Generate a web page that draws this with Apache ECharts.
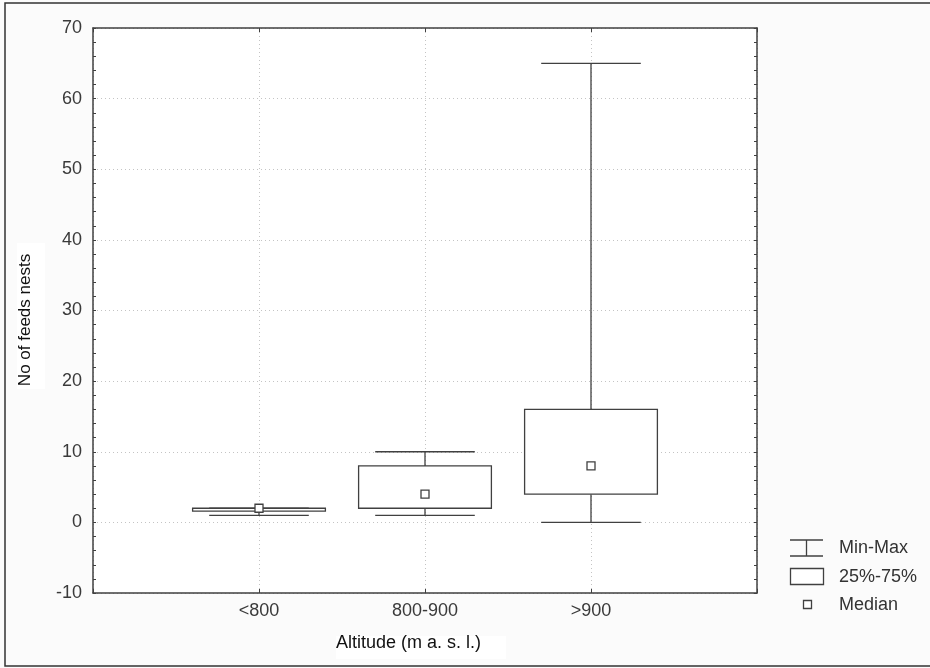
<!DOCTYPE html>
<html>
<head>
<meta charset="utf-8">
<script src="https://cdn.jsdelivr.net/npm/echarts@6/dist/echarts.min.js"></script>
<style>
  html, body { margin: 0; padding: 0; background: #fbfbfb; }
  #chart { width: 930px; height: 668px; }
</style>
</head>
<body>
<div id="chart"></div>
<script>
// altitude classes and the box plot statistics
const categories = ['<800', '800-900', '>900']
const minVals = [1, 1, 0]
const q1Vals = [1.6, 2, 4]
const medianVals = [2, 4, 8]
const q3Vals = [2, 8, 16]
const maxVals = [2, 10, 65]
const yTicks = [-10, 0, 10, 20, 30, 40, 50, 60, 70]

const FONT = 'Liberation Sans, Arial, sans-serif'
const INK = '#404040'
const GRID_LINE = '#c4c4c4'

const boxData = categories.map((c, i) => [i + 1, minVals[i], q1Vals[i], medianVals[i], q3Vals[i], maxVals[i]])
const medianData = categories.map((c, i) => [i + 1, medianVals[i]])

const chart = echarts.init(document.getElementById('chart'))

const renderWhisker = (params, api) => {
  const x = api.value(0)
  const pMin = api.coord([x, api.value(1)])
  const pQ1 = api.coord([x, api.value(2)])
  const pQ3 = api.coord([x, api.value(4)])
  const pMax = api.coord([x, api.value(5)])
  const half = api.size([0.3, 0])[0]
  const style = { stroke: INK, lineWidth: 1.3, fill: null }
  return {
    type: 'group',
    children: [
      { type: 'line', shape: { x1: pMin[0], y1: pMin[1], x2: pQ1[0], y2: pQ1[1] }, style },
      { type: 'line', shape: { x1: pQ3[0], y1: pQ3[1], x2: pMax[0], y2: pMax[1] }, style },
      { type: 'line', shape: { x1: pMin[0] - half, y1: pMin[1], x2: pMin[0] + half, y2: pMin[1] }, style },
      { type: 'line', shape: { x1: pMax[0] - half, y1: pMax[1], x2: pMax[0] + half, y2: pMax[1] }, style }
    ]
  }
}

const renderBox = (params, api) => {
  const x = api.value(0)
  const pQ1 = api.coord([x, api.value(2)])
  const pQ3 = api.coord([x, api.value(4)])
  const half = api.size([0.4, 0])[0]
  return {
    type: 'rect',
    shape: { x: pQ3[0] - half, y: pQ3[1], width: half * 2, height: pQ1[1] - pQ3[1] },
    style: { fill: '#fff', stroke: INK, lineWidth: 1.3 }
  }
}

const axisLine = { show: true, onZero: false, lineStyle: { color: INK, width: 1.5 } }

const option = {
  backgroundColor: '#fbfbfb',
  animation: false,
  textStyle: { fontFamily: FONT },
  grid: {
    left: 93, top: 28, right: 173, bottom: 75,
    show: true, backgroundColor: '#fff', borderWidth: 0
  },
  xAxis: [
    {
      type: 'value', min: 0, max: 4, interval: 1, position: 'bottom',
      axisLine,
      axisTick: { show: true, inside: true, length: 4, lineStyle: { color: INK } },
      axisLabel: {
        margin: 9, fontSize: 18, color: '#3a3a3a', fontFamily: FONT,
        formatter: v => categories[v - 1] || ''
      },
      splitLine: { show: true, lineStyle: { color: GRID_LINE, type: [1, 3] } }
    },
    {
      type: 'value', min: 0, max: 4, interval: 1, position: 'top',
      axisLine,
      axisTick: { show: true, inside: true, length: 4, lineStyle: { color: INK } },
      axisLabel: { show: false },
      splitLine: { show: false }
    }
  ],
  yAxis: [
    {
      type: 'value', min: yTicks[0], max: yTicks[yTicks.length - 1], interval: 10, position: 'left',
      axisLine,
      axisTick: { show: true, inside: true, length: 3, lineStyle: { color: INK } },
      minorTick: { show: true, splitNumber: 5, length: 3, lineStyle: { color: INK } },
      axisLabel: { margin: 11, fontSize: 18, color: '#3a3a3a', fontFamily: FONT },
      splitLine: { show: true, lineStyle: { color: GRID_LINE, type: [1, 3] } }
    },
    {
      type: 'value', min: yTicks[0], max: yTicks[yTicks.length - 1], interval: 10, position: 'right',
      axisLine,
      axisTick: { show: true, inside: true, length: 3, lineStyle: { color: INK } },
      minorTick: { show: true, splitNumber: 5, length: 3, lineStyle: { color: INK } },
      axisLabel: { show: false },
      splitLine: { show: false }
    }
  ],
  series: [
    {
      name: 'Min-Max', type: 'custom', renderItem: renderWhisker,
      xAxisIndex: 0, yAxisIndex: 0, data: boxData, z: 3,
      encode: { x: 0, y: [1, 5] }
    },
    {
      name: '25%-75%', type: 'custom', renderItem: renderBox,
      xAxisIndex: 0, yAxisIndex: 0, data: boxData, z: 4,
      encode: { x: 0, y: [2, 4] }
    },
    {
      name: 'Median', type: 'scatter', symbol: 'rect', symbolSize: 8,
      xAxisIndex: 0, yAxisIndex: 0, data: medianData, z: 5,
      itemStyle: { color: '#fff', borderColor: INK, borderWidth: 1.3, opacity: 1 }
    }
  ],
  graphic: [
    // outer frame
    { type: 'rect', shape: { x: 5, y: 3, width: 940, height: 663 }, style: { fill: null, stroke: '#333', lineWidth: 1.5 }, silent: true },
    // axis titles
    { type: 'rect', shape: { x: 17, y: 243, width: 28, height: 146 }, style: { fill: '#fff' }, silent: true },
    {
      type: 'text', x: 25, y: 320, rotation: Math.PI / 2,
      style: { text: 'No of feeds nests', font: '17px ' + FONT, fill: '#111', align: 'center', verticalAlign: 'middle' }
    },
    { type: 'rect', shape: { x: 336, y: 636, width: 170, height: 23 }, style: { fill: '#fff' }, silent: true },
    {
      type: 'text', x: 336, y: 643,
      style: { text: 'Altitude (m a. s. l.)', font: '18px ' + FONT, fill: '#111', align: 'left', verticalAlign: 'middle' }
    },
    // legend
    { type: 'line', shape: { x1: 790, y1: 540, x2: 823, y2: 540 }, style: { stroke: INK, lineWidth: 1.3 } },
    { type: 'line', shape: { x1: 806.5, y1: 540, x2: 806.5, y2: 556 }, style: { stroke: INK, lineWidth: 1.3 } },
    { type: 'line', shape: { x1: 790, y1: 556, x2: 823, y2: 556 }, style: { stroke: INK, lineWidth: 1.3 } },
    { type: 'text', x: 839, y: 548, style: { text: 'Min-Max', font: '18px ' + FONT, fill: '#333', verticalAlign: 'middle' } },
    { type: 'rect', shape: { x: 790.5, y: 568.5, width: 33, height: 16 }, style: { fill: '#fff', stroke: INK, lineWidth: 1.3 } },
    { type: 'text', x: 839, y: 577, style: { text: '25%-75%', font: '18px ' + FONT, fill: '#333', verticalAlign: 'middle' } },
    { type: 'rect', shape: { x: 803.5, y: 600.5, width: 8, height: 8 }, style: { fill: '#fff', stroke: INK, lineWidth: 1.3 } },
    { type: 'text', x: 839, y: 605, style: { text: 'Median', font: '18px ' + FONT, fill: '#333', verticalAlign: 'middle' } }
  ]
}

chart.setOption(option)
window.addEventListener('resize', () => chart.resize())
</script>
</body>
</html>
